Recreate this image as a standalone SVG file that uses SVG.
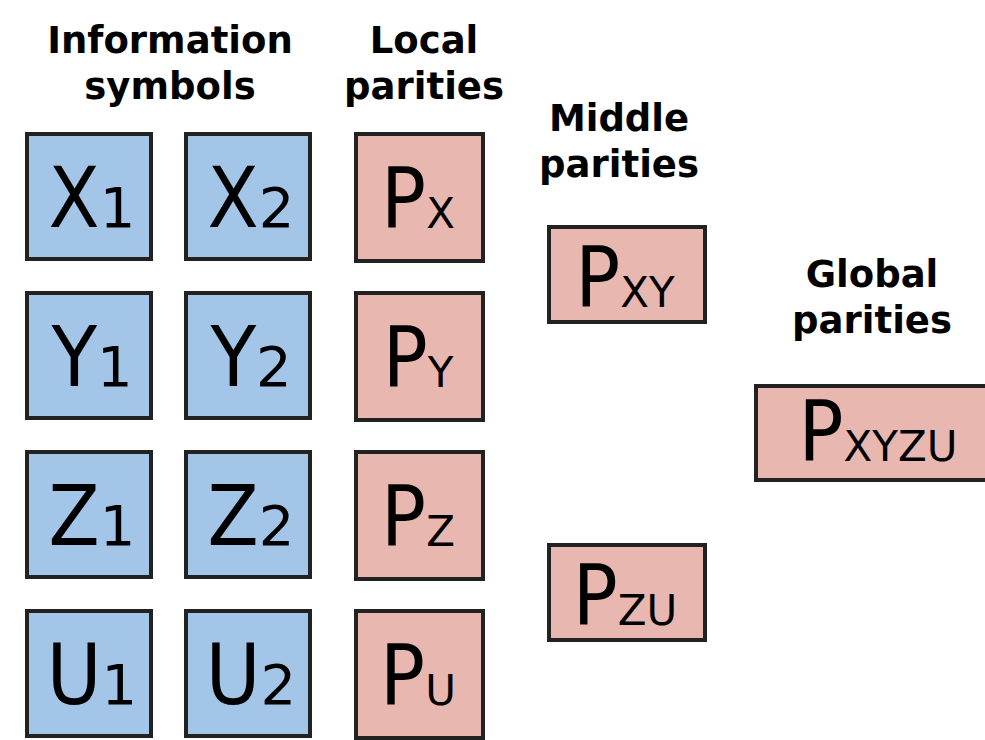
<svg xmlns="http://www.w3.org/2000/svg" width="985" height="740" viewBox="0 0 985 740">
<style>
.info{fill:#a2c5e8;stroke:#222;stroke-width:4}
.par{fill:#e8b8b0;stroke:#222;stroke-width:4}
.lbl{font-family:"DejaVu Sans Condensed","DejaVu Sans",sans-serif;font-stretch:condensed;font-size:83px;fill:#000;text-anchor:middle}
.dig{font-family:"DejaVu Sans",sans-serif;font-stretch:normal;font-size:56px}
.sub{font-family:"DejaVu Sans",sans-serif;font-stretch:normal;font-size:42px}
.hdr{font-family:"DejaVu Sans",sans-serif;font-weight:bold;font-size:37px;fill:#000;text-anchor:middle}
</style>
<rect width="985" height="740" fill="#fff"/>
<g id="headers">
<text class="hdr" x="170" y="53">Information</text>
<text class="hdr" x="170" y="99">symbols</text>
<text class="hdr" x="424" y="53">Local</text>
<text class="hdr" x="424" y="99">parities</text>
<text class="hdr" x="619" y="131">Middle</text>
<text class="hdr" x="619" y="177">parities</text>
<text class="hdr" x="872" y="287">Global</text>
<text class="hdr" x="872" y="333">parities</text>
</g>
<g id="X1"><rect class="info" x="27" y="134" width="124" height="125"/><text class="lbl" x="92" y="227">X<tspan class="dig">1</tspan></text></g>
<g id="X2"><rect class="info" x="186" y="134" width="124" height="125"/><text class="lbl" x="251" y="227">X<tspan class="dig">2</tspan></text></g>
<g id="Y1"><rect class="info" x="27" y="293" width="124" height="125"/><text class="lbl" x="92" y="386">Y<tspan class="dig">1</tspan></text></g>
<g id="Y2"><rect class="info" x="186" y="293" width="124" height="125"/><text class="lbl" x="251" y="386">Y<tspan class="dig">2</tspan></text></g>
<g id="Z1"><rect class="info" x="27" y="452" width="124" height="125"/><text class="lbl" x="92" y="545">Z<tspan class="dig">1</tspan></text></g>
<g id="Z2"><rect class="info" x="186" y="452" width="124" height="125"/><text class="lbl" x="251" y="545">Z<tspan class="dig">2</tspan></text></g>
<g id="U1"><rect class="info" x="27" y="611" width="124" height="125"/><text class="lbl" x="92" y="704">U<tspan class="dig">1</tspan></text></g>
<g id="U2"><rect class="info" x="186" y="611" width="124" height="125"/><text class="lbl" x="251" y="704">U<tspan class="dig">2</tspan></text></g>
<g id="PX"><rect class="par" x="356" y="134" width="127" height="127"/><text class="lbl" x="418" y="228">P<tspan class="sub">X</tspan></text></g>
<g id="PY"><rect class="par" x="356" y="293" width="127" height="127"/><text class="lbl" x="418" y="387">P<tspan class="sub">Y</tspan></text></g>
<g id="PZ"><rect class="par" x="356" y="452" width="127" height="127"/><text class="lbl" x="418" y="546">P<tspan class="sub">Z</tspan></text></g>
<g id="PU"><rect class="par" x="356" y="611" width="127" height="127"/><text class="lbl" x="418" y="705">P<tspan class="sub">U</tspan></text></g>
<g id="PXY"><rect class="par" x="549" y="227" width="156" height="95"/><text class="lbl" x="625" y="307">P<tspan class="sub">XY</tspan></text></g>
<g id="PZU"><rect class="par" x="549" y="545" width="156" height="95"/><text class="lbl" x="625" y="625">P<tspan class="sub">ZU</tspan></text></g>
<g id="PXYZU"><rect class="par" x="756" y="386" width="240" height="94"/><text class="lbl" x="878" y="461">P<tspan class="sub">XYZU</tspan></text></g>
<g id="connectors"/>
</svg>
